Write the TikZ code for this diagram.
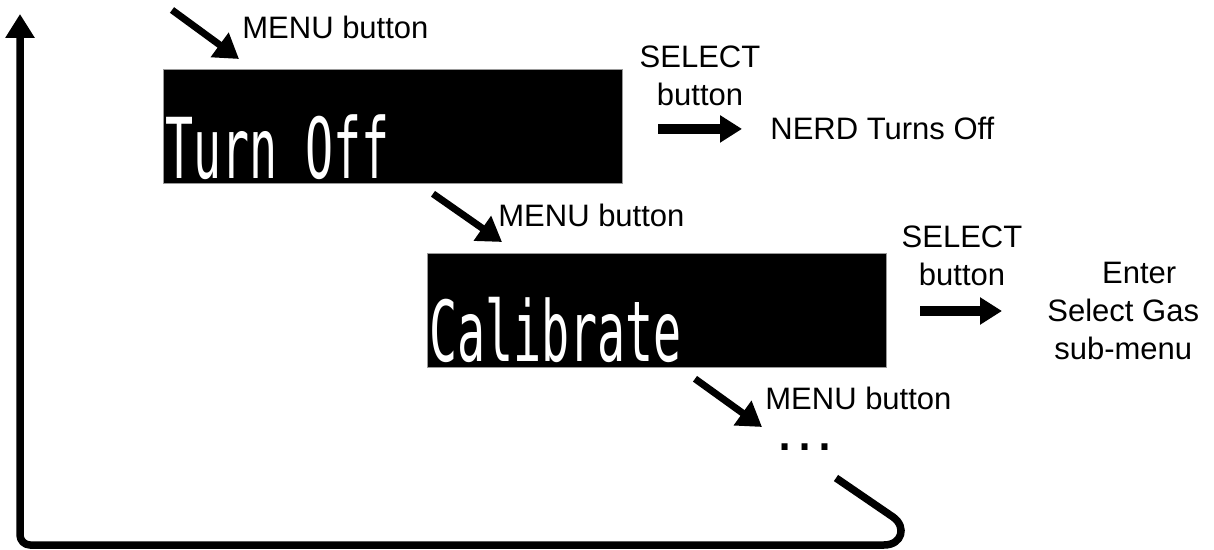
\documentclass[tikz,border=0pt]{standalone}
\usepackage{fontspec}
\setmainfont{Liberation Sans}
\newfontfamily\lcdfont[FakeStretch=0.555]{DejaVu Sans Mono}
\usepackage{tikz}
\usetikzlibrary{arrows.meta, positioning, calc}
\tikzset{
  lcdbox/.style={rectangle, fill=black, draw=black!40, line width=0.4pt,
    minimum width=229.5pt, minimum height=57pt, inner sep=0pt},
  lcdtext/.style={font=\lcdfont\fontsize{42}{42}\selectfont, text=white,
    inner sep=0pt, anchor=base west},
  lbl/.style={font=\fontsize{15.5}{19}\selectfont, inner sep=0pt, align=center},
  menuarrow/.style={-{Triangle[length=12pt, width=14.5pt]}, line width=3.5pt},
  selarrow/.style={-{Triangle[length=11pt, width=13pt]}, line width=5pt},
  looparrow/.style={-{Triangle[length=12pt, width=14pt]}, line width=3.75pt,
    line join=round}
}

\begin{document}
\begin{tikzpicture}[x=0.5pt, y=-0.5pt]
  \useasboundingbox (0,0) rectangle (1214,550);

  % Display screens
  \node[lcdbox, anchor=north west] (turnoff) at (163,69) {};
  \node[lcdtext] (turnofftxt) at ($(turnoff.south west)+(2,-5)$) {Turn Off};
  \node[lcdbox, anchor=north west] (calib) at (427,253) {};
  \node[lcdtext] (calibtxt) at ($(calib.south west)+(2,-6)$) {Calibrate};

  % MENU button steps
  \coordinate (entry) at (172,10);
  \node[lbl, anchor=base west] (menu1) at (242,39) {MENU button};
  \draw[menuarrow] (entry) -- ($(turnoff.north west)+(76,-10)$);
  \node[lbl, anchor=base west] (menu2) at (498,227) {MENU button};
  \draw[menuarrow] ($(turnoff.south west)+(270,10)$) -- ($(calib.north west)+(75,-11)$);
  \node[lbl, anchor=base west] (menu3) at (765,409) {MENU button};
  \node[font=\fontsize{31.5}{31.5}\selectfont, inner sep=0pt, text height=3.5pt,
    text depth=0pt, anchor=base west] (dots) at (773,450) {…};
  \draw[menuarrow] ($(calib.south west)+(268,11)$) -- ($(dots.base west)+(-11,-23)$);

  % SELECT button results
  \node[lbl, anchor=north] (sel1) at (700,45) {SELECT\\button};
  \node[lbl, anchor=base west, inner xsep=14pt] (nerdoff) at (742,140) {NERD Turns Off};
  \draw[selarrow] ([xshift=-42pt]nerdoff.west) -- (nerdoff.west);
  \node[lbl, anchor=north] (sel2) at (962,225) {SELECT\\button};
  \node[lbl, anchor=west, inner xsep=22.5pt] (gasmenu) at (1002,311)
    {\hspace*{16pt}Enter\\Select Gas\\sub-menu};
  \draw[selarrow] ([xshift=-41pt]gasmenu.west) -- (gasmenu.west);

  % Loop back to the first screen
  \coordinate (loopstart) at ($(dots.base west)+(63,28)$);
  \coordinate (looptop) at (20,14);
  \draw[looparrow] (loopstart) -- (893,517)
    .. controls (907,527) and (902,545) .. (884,545)
    [rounded corners=5pt] -- (20,545) -- (looptop);
\end{tikzpicture}
\end{document}
